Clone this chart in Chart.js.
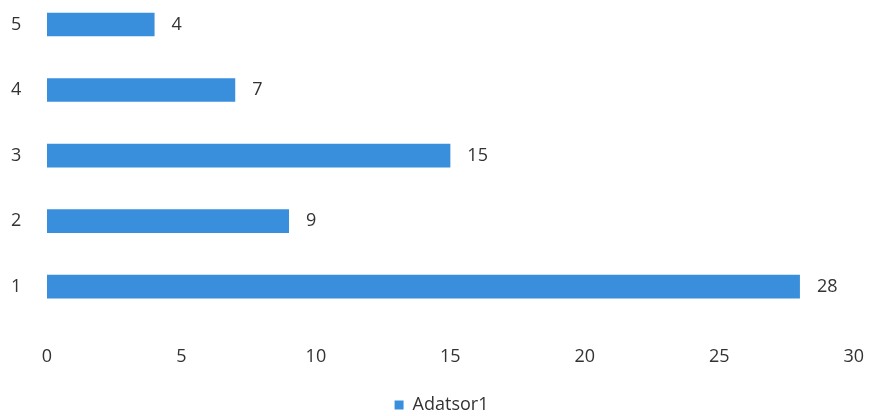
<!DOCTYPE html>
<html>
<head>
<meta charset="utf-8">
<script src="https://cdn.jsdelivr.net/npm/chart.js@4.4.1/dist/chart.umd.min.js"></script>
<style>
  html, body { margin: 0; padding: 0; background: #fff; overflow: hidden; }
  #wrap { position: absolute; left: 0; top: -19px; width: 891px; height: 450px; }
</style>
</head>
<body>
<div id="wrap"><canvas id="chart"></canvas></div>
<script>
// adatok a képről
const categories = ["1", "2", "3", "4", "5"];
const values = [28, 9, 15, 7, 4];
const xTicks = [0, 5, 10, 15, 20, 25, 30];
const seriesName = "Adatsor1";

const barColor = "#3a8fdc";
const textColor = "#333333";
const fontFamily = "'Open Sans', sans-serif";

// értékcímkék a sávok végére
const valueLabels = {
  id: "valueLabels",
  afterDatasetsDraw(chart) {
    const ctx = chart.ctx;
    const meta = chart.getDatasetMeta(0);
    ctx.save();
    ctx.fillStyle = textColor;
    ctx.font = "18px " + fontFamily;
    ctx.textAlign = "left";
    ctx.textBaseline = "middle";
    meta.data.forEach((bar, i) => {
      ctx.fillText(String(values[i]), bar.x + 17, bar.y);
    });
    ctx.restore();
  },
};

new Chart(document.getElementById("chart"), {
  type: "bar",
  data: {
    labels: categories,
    datasets: [
      {
        label: seriesName,
        data: values,
        backgroundColor: barColor,
        borderWidth: 0,
        barPercentage: 0.72,
        categoryPercentage: 0.5,
      },
    ],
  },
  options: {
    indexAxis: "y",
    responsive: true,
    maintainAspectRatio: false,
    animation: false,
    layout: { padding: { left: 11, right: 19, top: 0, bottom: 7 } },
    scales: {
      x: {
        min: 0,
        max: 30,
        afterBuildTicks: (s) => {
          s.ticks = xTicks.map((v) => ({ value: v }));
        },
        afterFit: (s) => {
          s.height -= 4;
        },
        grid: { display: false, drawTicks: false },
        border: { display: false },
        ticks: {
          color: textColor,
          padding: 27,
          font: { family: fontFamily, size: 18 },
          maxRotation: 0,
        },
      },
      y: {
        reverse: true,
        afterFit: (s) => {
          s.width = 36;
        },
        grid: { display: false, drawTicks: false },
        border: { display: false },
        ticks: {
          color: textColor,
          padding: 0,
          crossAlign: "far",
          font: { family: fontFamily, size: 18 },
        },
      },
    },
    plugins: {
      legend: {
        position: "bottom",
        labels: {
          color: textColor,
          boxWidth: 9,
          boxHeight: 9,
          padding: 5,
          font: { family: fontFamily, size: 18 },
        },
      },
      tooltip: { enabled: false },
    },
  },
  plugins: [valueLabels],
});
</script>
</body>
</html>
